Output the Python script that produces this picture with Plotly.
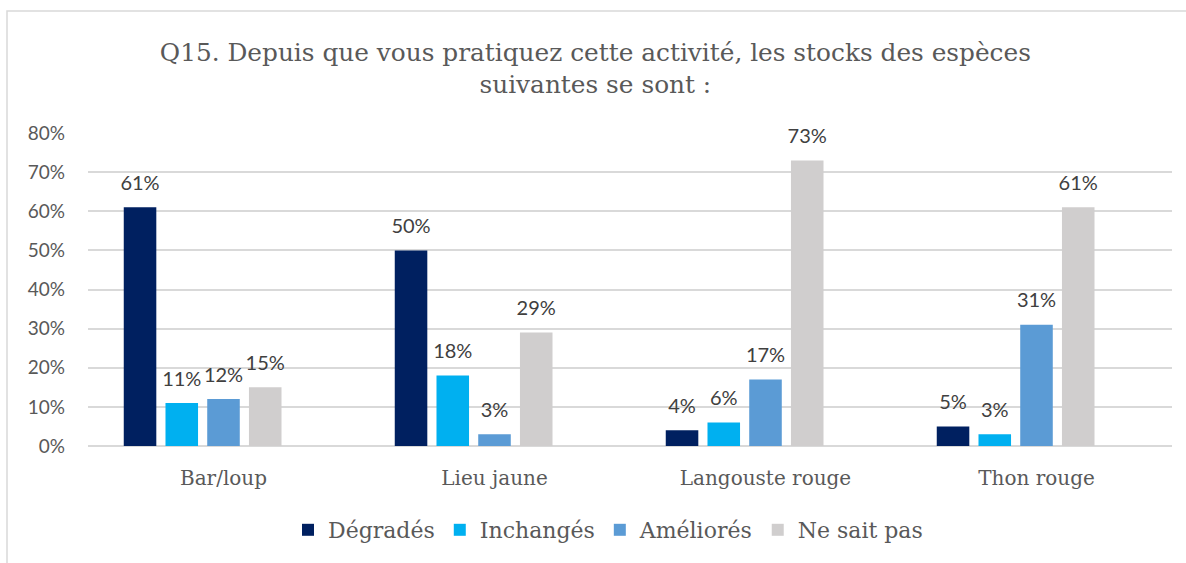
import plotly.graph_objects as go

categories = ["Bar/loup", "Lieu jaune", "Langouste rouge", "Thon rouge"]
series_names = ["Dégradés", "Inchangés", "Améliorés", "Ne sait pas"]
degrades = [0.61, 0.50, 0.04, 0.05]
inchanges = [0.11, 0.18, 0.06, 0.03]
ameliores = [0.12, 0.03, 0.17, 0.31]
ne_sait_pas = [0.15, 0.29, 0.73, 0.61]
empty_series = [None, None, None, None]  # unused 5th series slot in the source chart
y_ticks = [0, 0.1, 0.2, 0.3, 0.4, 0.5, 0.6, 0.7, 0.8]

colors = ["#002060", "#00B0F0", "#5B9BD5", "#D0CECE"]
values = [degrades, inchanges, ameliores, ne_sait_pas]

W, H = 1186, 563
ml, mr, mt, mb = 88, 14, 133, 117
BARGAP = 0.23

SERIF = "'DejaVu Serif', 'Liberation Serif', serif"
SANS = "Lato, 'Open Sans', sans-serif"

fig = go.Figure()
for name, vals, col in zip(series_names, values, colors):
    fig.add_trace(go.Bar(
        x=categories, y=vals, name=name,
        marker=dict(color=col, line=dict(width=0)),
        hoverinfo="skip",
    ))
fig.add_trace(go.Bar(x=categories, y=empty_series, name="", showlegend=False,
                     marker=dict(color="rgba(0,0,0,0)"), hoverinfo="skip"))

# data labels, grouped the same way as the bars
for name, vals in zip(series_names, values):
    fig.add_trace(go.Scatter(
        x=categories, y=vals, mode="markers+text", showlegend=False,
        text=[f"{v*100:.0f}%" for v in vals], textposition="top center",
        textfont=dict(family=SANS, size=20, color="#404040"),
        marker=dict(size=18, color="rgba(0,0,0,0)"),
        cliponaxis=False, hoverinfo="skip",
    ))
fig.add_trace(go.Scatter(x=categories, y=empty_series, mode="markers", showlegend=False,
                         marker=dict(size=1, color="rgba(0,0,0,0)"), hoverinfo="skip"))

pw = W - ml - mr
ph = H - mt - mb
fig.update_layout(
    width=W, height=H,
    margin=dict(l=ml, r=mr, t=mt, b=mb),
    paper_bgcolor="white", plot_bgcolor="white",
    barmode="group", bargap=BARGAP, bargroupgap=0.22,
    scattermode="group", scattergap=BARGAP,
    title=dict(
        text="Q15. Depuis que vous pratiquez cette activité, les stocks des espèces<br>suivantes se sont :",
        x=0.502, xanchor="center", y=1 - 60.5/H, yanchor="middle",
        font=dict(family=SERIF, size=24.8, color="#595959"),
    ),
    xaxis=dict(
        showgrid=False, showline=False, zeroline=False, ticks="",
        ticklabelstandoff=18,
        tickfont=dict(family=SERIF, size=20, color="#595959"),
    ),
    yaxis=dict(
        range=[0, 0.8], tickvals=y_ticks, tickformat=".0%",
        showgrid=True, gridcolor="#D9D9D9", gridwidth=1.5,
        zeroline=True, zerolinecolor="#D9D9D9", zerolinewidth=1.5,
        showline=False, ticks="", ticklabelstandoff=22,
        tickfont=dict(family=SANS, size=19, color="#595959"),
    ),
    legend=dict(
        orientation="h", x=(608 - ml) / pw, xanchor="center", y=-(530 - (H - mb)) / ph, yanchor="middle",
        font=dict(family=SERIF, size=22, color="#595959"),
        itemwidth=30, traceorder="normal",
    ),
    showlegend=True,
    shapes=[dict(
        type="rect", xref="paper", yref="paper",
        x0=(7 - ml) / pw, x1=(W + 5 - ml) / pw,
        y0=-(H + 5 - (H - mb)) / ph, y1=1 + (mt - 11) / ph,
        line=dict(color="#D9D9D9", width=1.5), fillcolor="rgba(0,0,0,0)", layer="below",
    )],
)

fig.write_html("out.html", config={"displayModeBar": False},
               post_script="document.body.style.margin='0';document.body.style.overflow='hidden';")
